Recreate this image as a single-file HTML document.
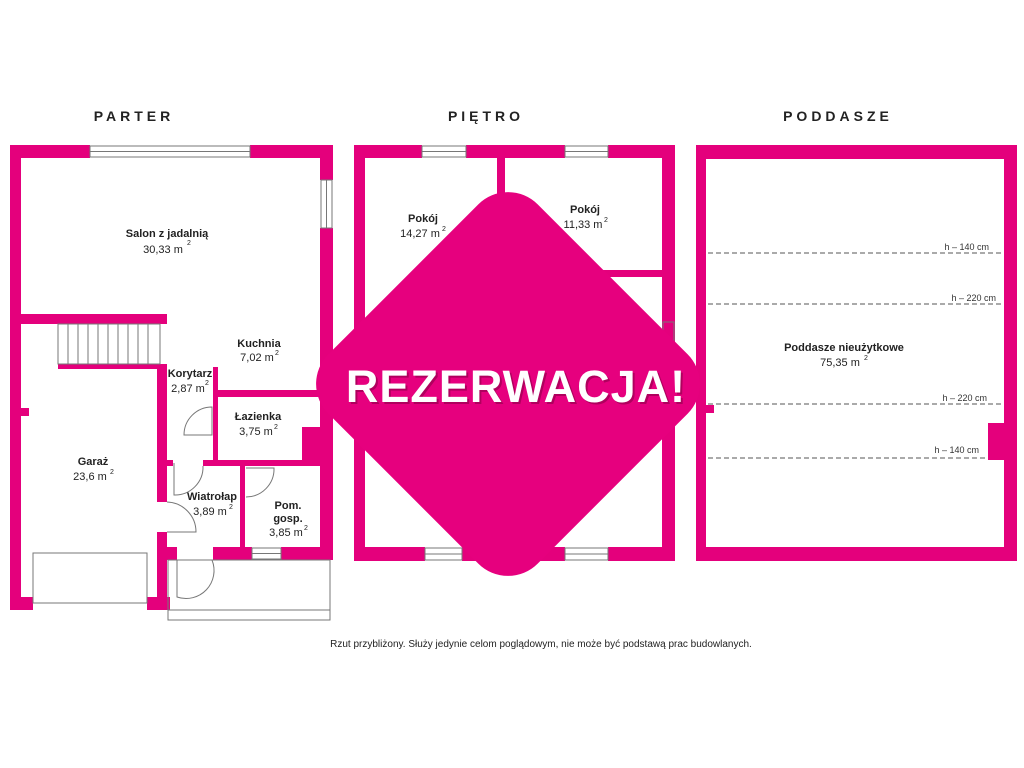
<!DOCTYPE html>
<html><head><meta charset="utf-8"><style>
html,body{margin:0;padding:0;background:#fff;}
svg{display:block}
text{font-family:"Liberation Sans","DejaVu Sans",sans-serif;fill:#222}
.b{font-weight:bold;font-size:11px}
.n{font-size:11px}
.s{font-size:7px}
.h{font-size:9px;fill:#333}
.t{font-size:14px;font-weight:bold;letter-spacing:4px}
</style></head><body>
<svg width="1024" height="768" viewBox="0 0 1024 768" xmlns="http://www.w3.org/2000/svg">
<rect width="1024" height="768" fill="#fff"/>
<text class="t" x="134" y="121" text-anchor="middle">PARTER</text>
<text class="t" x="486" y="121" text-anchor="middle">PIĘTRO</text>
<text class="t" x="838" y="121" text-anchor="middle">PODDASZE</text>

<g fill="#e4007c">
<!-- PARTER -->
<rect x="10" y="145" width="80" height="13"/>
<rect x="250" y="145" width="83" height="13"/>
<rect x="10" y="145" width="11" height="465"/>
<rect x="320" y="145" width="13" height="35"/>
<rect x="320" y="228" width="13" height="332"/>
<rect x="10" y="314" width="157" height="10"/>
<rect x="58" y="364" width="109" height="5"/>
<rect x="157" y="364" width="10" height="138"/>
<rect x="157" y="532" width="10" height="78"/>
<rect x="10" y="597" width="23" height="13"/>
<rect x="147" y="597" width="23" height="13"/>
<rect x="21" y="408" width="8" height="8"/>
<rect x="213" y="367" width="5" height="93"/>
<rect x="218" y="390" width="102" height="7"/>
<rect x="203" y="460" width="117" height="6"/>
<rect x="302" y="427" width="18" height="33"/>
<rect x="240" y="466" width="5" height="81"/>
<rect x="167" y="547" width="10" height="13"/>
<rect x="213" y="547" width="39" height="13"/>
<rect x="281" y="547" width="51" height="13"/>
<rect x="167" y="460" width="6" height="6"/>
<!-- PIETRO -->
<rect x="354" y="145" width="68" height="13"/>
<rect x="466" y="145" width="99" height="13"/>
<rect x="608" y="145" width="67" height="13"/>
<rect x="354" y="145" width="11" height="416"/>
<rect x="662" y="145" width="13" height="416"/>
<rect x="497" y="158" width="8" height="112"/>
<rect x="505" y="270" width="157" height="7"/>
<rect x="354" y="547" width="71" height="14"/>
<rect x="462" y="547" width="103" height="14"/>
<rect x="608" y="547" width="67" height="14"/>
<!-- PODDASZE -->
<path fill-rule="evenodd" d="M696 145H1017V561H696Z M706 159V547H1004V159Z"/>
<rect x="988" y="423" width="16" height="37"/>
<rect x="706" y="405" width="8" height="8"/>
</g>

<g fill="none" stroke="#777" stroke-width="1">
<!-- windows parter -->
<rect x="90" y="146" width="160" height="11"/><line x1="90" y1="151.5" x2="250" y2="151.5"/>
<rect x="321" y="180" width="11" height="48"/><line x1="326.5" y1="180" x2="326.5" y2="228"/>
<rect x="252" y="548" width="29" height="11"/><line x1="252" y1="553.5" x2="281" y2="553.5"/>
<!-- stairs -->
<rect x="58" y="324" width="102" height="40"/>
<path d="M68 324V364M78 324V364M88 324V364M98 324V364M108 324V364M118 324V364M128 324V364M138 324V364M148 324V364"/>
<rect x="33" y="553" width="114" height="50"/>
<rect x="168" y="560" width="162" height="60"/>
<line x1="168" y1="610" x2="330" y2="610"/>
<!-- doors -->
<path d="M212 407A28 28 0 0 0 184 435H212Z"/>
<path d="M174 463V495A28 28 0 0 0 203 466"/>
<path d="M246 468H274A28 28 0 0 1 246 497"/>
<path d="M167 502A30 30 0 0 1 196 532H167"/>
<path d="M177 560V597A28 28 0 0 0 212 560"/>
<!-- pietro windows -->
<rect x="422" y="146" width="44" height="11"/><line x1="422" y1="151.5" x2="466" y2="151.5"/>
<rect x="565" y="146" width="43" height="11"/><line x1="565" y1="151.5" x2="608" y2="151.5"/>
<rect x="425" y="548" width="37" height="12"/><line x1="425" y1="554" x2="462" y2="554"/>
<rect x="565" y="548" width="43" height="12"/><line x1="565" y1="554" x2="608" y2="554"/>
<rect x="663" y="322" width="11" height="30"/>
</g>

<g stroke="#555" stroke-width="1" stroke-dasharray="5,3">
<line x1="708" y1="253" x2="1004" y2="253"/>
<line x1="708" y1="304" x2="1004" y2="304"/>
<line x1="708" y1="404" x2="1004" y2="404"/>
<line x1="708" y1="458" x2="988" y2="458"/>
</g>
<text class="h" x="989" y="250" text-anchor="end">h – 140 cm</text>
<text class="h" x="996" y="301" text-anchor="end">h – 220 cm</text>
<text class="h" x="987" y="401" text-anchor="end">h – 220 cm</text>
<text class="h" x="979" y="453" text-anchor="end">h – 140 cm</text>

<!-- labels parter -->
<text class="b" x="167" y="237" text-anchor="middle">Salon z jadalnią</text>
<text class="n" x="163" y="253" text-anchor="middle">30,33 m</text><text class="s" x="187" y="245">2</text>
<text class="b" x="259" y="347" text-anchor="middle">Kuchnia</text>
<text class="n" x="257" y="361" text-anchor="middle">7,02 m</text><text class="s" x="275" y="355">2</text>
<text class="b" x="190" y="377" text-anchor="middle">Korytarz</text>
<text class="n" x="188" y="392" text-anchor="middle">2,87 m</text><text class="s" x="205" y="385">2</text>
<text class="b" x="258" y="420" text-anchor="middle">Łazienka</text>
<text class="n" x="256" y="435" text-anchor="middle">3,75 m</text><text class="s" x="274" y="429">2</text>
<text class="b" x="93" y="465" text-anchor="middle">Garaż</text>
<text class="n" x="90" y="480" text-anchor="middle">23,6 m</text><text class="s" x="110" y="474">2</text>
<text class="b" x="212" y="500" text-anchor="middle">Wiatrołap</text>
<text class="n" x="210" y="515" text-anchor="middle">3,89 m</text><text class="s" x="229" y="509">2</text>
<text class="b" x="288" y="509" text-anchor="middle">Pom.</text>
<text class="b" x="288" y="522" text-anchor="middle">gosp.</text>
<text class="n" x="286" y="536" text-anchor="middle">3,85 m</text><text class="s" x="304" y="530">2</text>
<!-- pietro -->
<text class="b" x="423" y="222" text-anchor="middle">Pokój</text>
<text class="n" x="420" y="237" text-anchor="middle">14,27 m</text><text class="s" x="442" y="231">2</text>
<text class="b" x="585" y="213" text-anchor="middle">Pokój</text>
<text class="n" x="583" y="228" text-anchor="middle">11,33 m</text><text class="s" x="604" y="222">2</text>
<!-- poddasze -->
<text class="b" x="844" y="351" text-anchor="middle">Poddasze nieużytkowe</text>
<text class="n" x="840" y="366" text-anchor="middle">75,35 m</text><text class="s" x="864" y="360">2</text>

<!-- stamp -->
<rect x="360" y="236" width="296" height="296" rx="42" fill="#e6007e" transform="rotate(45 508 384)"/>
<text x="518" y="404" text-anchor="middle" style="font-size:45px;font-weight:bold;fill:#b0005e;letter-spacing:1px">REZERWACJA!</text>
<text x="516" y="402" text-anchor="middle" style="font-size:45px;font-weight:bold;fill:#fff;letter-spacing:1px">REZERWACJA!</text>

<text x="541" y="647" text-anchor="middle" style="font-size:10px;fill:#222">Rzut przybliżony. Służy jedynie celom poglądowym, nie może być podstawą prac budowlanych.</text>
</svg>
</body></html>
